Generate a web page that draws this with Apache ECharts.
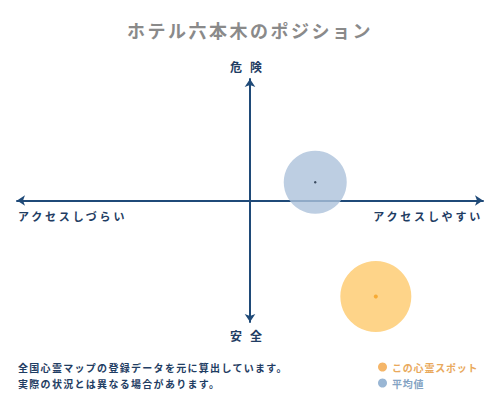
<!DOCTYPE html>
<html>
<head>
<meta charset="utf-8">
<script src="https://cdn.jsdelivr.net/npm/echarts@6/dist/echarts.min.js"></script>
<style>
  html, body { margin: 0; padding: 0; background: #fff; }
  #main { width: 500px; height: 400px; }
</style>
</head>
<body>
<div id="main"></div>
<script>
// points: this spot and the average
const names = ['この心霊スポット', '平均値']
const accessX = [0.54, 0.28]
const dangerY = [-0.79, 0.15]

const titleText = 'ホテル六本木のポジション'
const topLabel = '危険'
const bottomLabel = '安全'
const leftLabel = 'アクセスしづらい'
const rightLabel = 'アクセスしやすい'
const notes = ['全国心霊マップの登録データを元に算出しています。', '実際の状況とは異なる場合があります。']

const navy = '#1f4a78'
const textNavy = '#1f3d63'
const font = '"Noto Sans CJK JP", sans-serif'

let mycharts = echarts.init(document.getElementById('main'), null, { renderer: 'svg' })

function axisOpt() {
  return {
    type: 'value',
    min: -1,
    max: 1,
    axisLine: {
      show: true,
      onZero: true,
      symbol: ['arrow', 'arrow'],
      symbolSize: [8, 8],
      lineStyle: { color: navy, width: 2 }
    },
    axisTick: { show: false },
    axisLabel: { show: false },
    splitLine: { show: false }
  }
}

function txt(text, x, y, size, color, align) {
  return {
    type: 'text',
    x: x,
    y: y,
    style: {
      text: text,
      fill: color,
      font: 'bold ' + size + 'px ' + font,
      textAlign: align || 'left',
      textVerticalAlign: 'middle'
    }
  }
}

let option = {
  animation: false,
  title: {
    text: titleText,
    left: 'center',
    top: 16,
    textStyle: { color: '#8a8a8a', fontSize: 18, fontWeight: 'bold', fontFamily: font }
  },
  grid: { left: 17, right: 17, top: 79, bottom: 78 },
  xAxis: axisOpt(),
  yAxis: axisOpt(),
  legend: {
    orient: 'vertical',
    left: 373,
    top: 357,
    itemWidth: 9,
    itemHeight: 9,
    itemGap: 6,
    icon: 'circle',
    textStyle: { fontSize: 10, fontWeight: 'bold', fontFamily: font },
    data: [
      { name: names[0], itemStyle: { color: '#f2a444' }, textStyle: { color: '#e9a95c' } },
      { name: names[1], itemStyle: { color: '#7fa4c9' }, textStyle: { color: '#84a3c3' } }
    ]
  },
  graphic: [
    txt(topLabel, 250, 66, 12, textNavy, 'center'),
    txt(bottomLabel, 250, 335, 12, textNavy, 'center'),
    txt(leftLabel, 18, 216, 11, textNavy, 'left'),
    txt(rightLabel, 483, 216, 11, textNavy, 'right'),
    txt(notes[0], 18, 367, 10, textNavy, 'left'),
    txt(notes[1], 18, 383, 10, textNavy, 'left')
  ],
  series: [
    {
      name: names[0],
      type: 'scatter',
      symbolSize: 71,
      itemStyle: { color: '#fec96c' },
      data: [[accessX[0], dangerY[0]]]
    },
    {
      name: names[1],
      type: 'scatter',
      symbolSize: 63,
      itemStyle: { color: '#adc2db' },
      data: [[accessX[1], dangerY[1]]]
    },
    {
      name: 'dot0',
      type: 'scatter',
      symbolSize: 4,
      itemStyle: { color: '#f5a020' },
      data: [[accessX[0], dangerY[0]]]
    },
    {
      name: 'dot1',
      type: 'scatter',
      symbolSize: 2.5,
      itemStyle: { color: '#1a2a40' },
      data: [[accessX[1], dangerY[1]]]
    }
  ]
}
mycharts.setOption(option)

// letter spacing like the original
const spacing = {}
spacing[titleText] = 2.5
spacing[topLabel] = 8
spacing[bottomLabel] = 8
spacing[leftLabel] = 2.8
spacing[rightLabel] = 2.8
spacing[notes[0]] = 1.3
spacing[notes[1]] = 1.3
spacing[names[0]] = 0.8
spacing[names[1]] = 0.8

document.querySelectorAll('#main text').forEach(function (el) {
  const s = spacing[el.textContent]
  if (s) el.style.letterSpacing = s + 'px'
})
</script>
</body>
</html>
